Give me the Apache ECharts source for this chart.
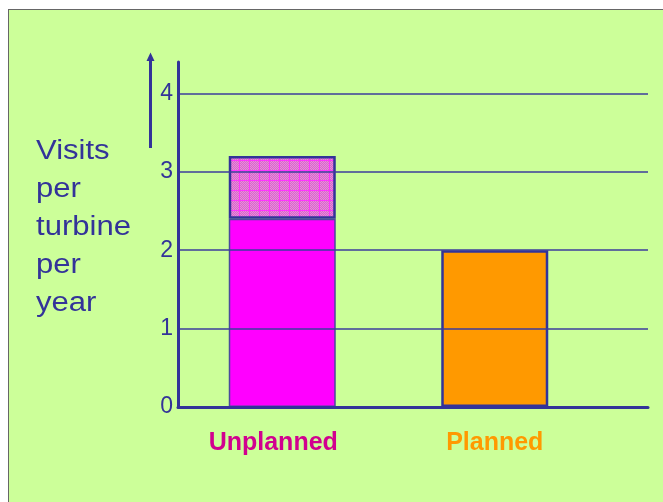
<!DOCTYPE html>
<html>
<head>
<meta charset="utf-8">
<script src="https://cdn.jsdelivr.net/npm/echarts@6/dist/echarts.min.js"></script>
<style>
  html, body { margin: 0; padding: 0; background: #fff; }
  #chart {
    position: absolute; left: 8px; top: 9px;
    width: 654px; height: 492px;
    border-left: 1px solid #666; border-top: 1px solid #666;
    background: #ccff99;
  }
</style>
</head>
<body>
<div id="chart"></div>
<script>
const categories = ['Unplanned', 'Planned']
const solidValues = [2.4, 2.0]
const totalValues = [3.2, null]
const barColors = ['#ff00ff', '#ff9900']
const labelColors = ['#d1008f', '#ff9900']
const yTicks = [0, 1, 2, 3, 4]
const yMax = 4.4
const axisTitle = 'Visits\nper\nturbine\nper\nyear'

const BLUE = '#333399'

// cross-hatched pink fill for the top of the unplanned bar
function hatchPattern() {
  const c = document.createElement('canvas')
  c.width = 10
  c.height = 10
  const ctx = c.getContext('2d')
  for (let i = 0; i < 10; i++)
    for (let j = 0; j < 10; j++) {
      ctx.fillStyle = (i + j) % 2 ? '#ec86dc' : '#d36cc8'
      ctx.fillRect(i, j, 1, 1)
    }
  ctx.fillStyle = '#ff33ff'
  ctx.fillRect(0, 0, 10, 1)
  ctx.fillRect(0, 0, 1, 10)
  return c
}

const chart = echarts.init(document.getElementById('chart'), null, { renderer: 'canvas' })

const gridTop = 52
const gridBottom = 95

chart.setOption({
  animation: false,
  backgroundColor: '#ccff99',
  textStyle: { fontFamily: '"Liberation Sans", Arial, sans-serif' },
  grid: [
    { left: 169, right: 15, top: gridTop, bottom: gridBottom },
    { left: 167, right: 62, top: gridTop, bottom: gridBottom },
  ],
  xAxis: [
    {
      gridIndex: 0,
      type: 'value',
      min: 0,
      max: 1,
      z: 5,
      axisLine: { show: true, lineStyle: { color: BLUE, width: 3 } },
      axisTick: { show: false },
      axisLabel: { show: false },
      splitLine: { show: false },
    },
    {
      gridIndex: 1,
      type: 'category',
      data: categories.map((c, i) => ({
        value: c,
        textStyle: { color: labelColors[i], padding: i === 0 ? [0, 18, 0, 0] : 0 },
      })),
      axisLine: { show: false },
      axisTick: { show: false },
      axisLabel: { fontSize: 25, fontWeight: 'bold', margin: 24 },
    },
  ],
  yAxis: [
    {
      gridIndex: 0,
      type: 'value',
      min: 0,
      max: yMax,
      interval: 1,
      z: 5,
      axisLine: { show: true, lineStyle: { color: BLUE, width: 3 } },
      axisTick: { show: false },
      axisLabel: {
        color: BLUE,
        fontSize: 23,
        margin: 5,
        showMaxLabel: false,
        formatter: (v) => (yTicks.includes(v) ? String(v) : ''),
      },
      splitLine: {
        show: true,
        showMinLine: false,
        showMaxLine: false,
        lineStyle: { color: '#3d3d9c', width: 1.5 },
      },
    },
    {
      gridIndex: 1,
      type: 'value',
      min: 0,
      max: yMax,
      show: false,
    },
  ],
  graphic: [
    {
      type: 'text',
      x: 27,
      y: 123,
      scaleX: 1.15,
      style: {
        text: axisTitle,
        font: '27px "Liberation Sans", Arial, sans-serif',
        lineHeight: 38,
        fill: BLUE,
        verticalAlign: 'top',
      },
    },
    {
      type: 'line',
      shape: { x1: 141.5, y1: 138, x2: 141.5, y2: 50 },
      style: { stroke: BLUE, lineWidth: 3 },
    },
    {
      type: 'polygon',
      shape: { points: [[137.5, 51], [145.5, 51], [141.5, 42.5]] },
      style: { fill: BLUE },
    },
  ],
  series: [
    {
      type: 'bar',
      xAxisIndex: 1,
      yAxisIndex: 1,
      stack: 'visits',
      barWidth: 107,
      data: solidValues.map((v, i) => ({
        value: v,
        itemStyle: {
          color: barColors[i],
          borderColor: i === 0 ? '#4a4a9c' : BLUE,
          borderWidth: i === 0 ? 1.5 : 2.5,
        },
      })),
    },
    {
      type: 'bar',
      xAxisIndex: 1,
      yAxisIndex: 1,
      stack: 'visits',
      barWidth: 107,
      itemStyle: {
        color: { image: hatchPattern(), repeat: 'repeat' },
        borderColor: BLUE,
        borderWidth: 2.5,
      },
      data: totalValues.map((t, i) => (t == null ? '-' : +(t - solidValues[i]).toFixed(2))),
    },
  ],
})
</script>
</body>
</html>
